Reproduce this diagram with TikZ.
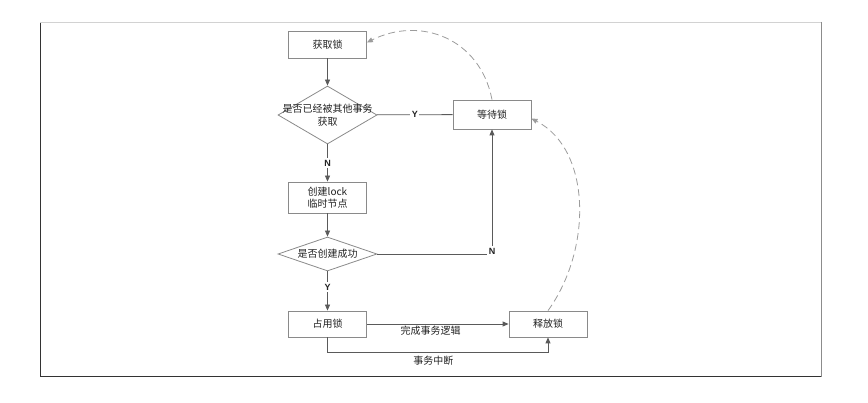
\documentclass[tikz,border=0pt]{standalone}
\usepackage{fontspec}
\setmainfont{Noto Sans CJK SC}
\newfontfamily\latinb{Liberation Sans}
\usetikzlibrary{shapes.geometric,arrows.meta}
\definecolor{boxc}{HTML}{8A8A8A}
\definecolor{linec}{HTML}{5A5A5A}
\definecolor{txt}{HTML}{222222}
\begin{document}
\begin{tikzpicture}[x=1pt,y=-1pt]
\tikzset{
 box/.style={draw=boxc, line width=0.8pt, fill=white, minimum width=78pt, minimum height=27pt, inner sep=1pt, align=center, text=txt, font=\fontsize{10}{12.5}\selectfont},
 dia/.style={draw=boxc, line width=0.8pt, diamond, inner sep=0pt, minimum width=99pt, minimum height=58pt},
 dtext/.style={align=center, text=txt, font=\fontsize{10}{12.5}\selectfont, inner sep=0pt},
 conn/.style={draw=linec, line width=0.8pt},
 arr/.style={conn, -{Triangle[length=6pt,width=5pt]}},
 dashc/.style={draw=boxc!85, line width=0.8pt, dash pattern=on 7pt off 4pt, -{Triangle[length=6pt,width=5pt]}},
 yn/.style={font=\latinb\bfseries\fontsize{9}{10}\selectfont, text=txt, fill=white, inner sep=1.5pt},
 lbl/.style={text=txt, font=\fontsize{10}{12.5}\selectfont}
}
\useasboundingbox (0,0) rectangle (868,403);
% frame
\draw[black!80, line width=1pt] (40,22) -- (40,377);
\draw[gray!35, line width=0.8pt] (40,22) -- (821,22);
\draw[gray!90, line width=1pt] (821,22) -- (821,377);
\draw[black!80, line width=1pt] (40,377) -- (821,377);
% nodes
\node[box, minimum height=27pt] (get) at (327.5,44.5) {获取锁};
\node[dia] (d1) at (327.5,115) {};
\node[dtext] (d1t) at (d1.center) {是否已经被其他事务\\获取};
\node[box, minimum height=31pt] (create) at (327.5,197.5) {创建lock\\临时节点};
\node[dia, minimum height=34pt] (d2) at (327.5,254) {};
\node[dtext] (d2t) at (d2.center) {是否创建成功};
\node[box, minimum height=26pt] (use) at (327.5,324) {占用锁};
\node[box, minimum height=26pt] (rel) at (548,324) {释放锁};
\node[box, minimum height=29pt] (wait) at (492,114.5) {等待锁};
% connectors
\draw[arr] (get) -- (d1);
\draw[arr] (d1) -- node[yn]{N} (create);
\draw[arr] (create) -- (d2);
\draw[arr] (d2) -- node[yn, pos=0.4]{Y} (use);
\draw[conn] (d1) -- node[yn]{Y} (wait);
\draw[arr] (d2.east) -| node[yn, pos=0.5, yshift=3pt]{N} (wait.south);
\draw[arr] (use.east) -- node[lbl, below, pos=0.45, inner sep=2pt]{完成事务逻辑} (rel.west);
\draw[arr] (use.south) -- ++(0,15) -| node[lbl, below, pos=0.24, inner sep=3pt]{事务中断} (rel.south);
\draw[dashc] (wait.north) .. controls (480,38) and (420,16) .. ([yshift=2pt]get.east);
\draw[dashc] (rel.north) .. controls (592,250) and (592,150) .. ([yshift=-4pt]wait.east);
\end{tikzpicture}
\end{document}
